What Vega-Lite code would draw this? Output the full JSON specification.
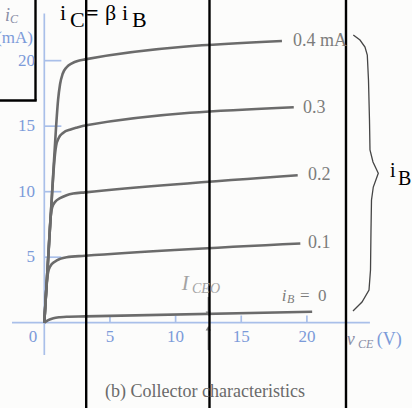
{
  "$schema": "https://vega.github.io/schema/vega-lite/v6.json",
  "width": 412,
  "height": 408,
  "autosize": "none",
  "padding": 0,
  "background": "#fcfcfb",
  "config": {"view": {"stroke": null}, "text": {"font": "Liberation Serif"}},
  "datasets": {
    "segs": [
      {"kind": "axis", "x": 0, "y": -2.47, "x2": 0, "y2": 23.6},
      {"kind": "axis", "x": -2.46, "y": 0, "x2": 24.8, "y2": 0},
      {"kind": "axis", "x": 0, "y": 5, "x2": 1.3, "y2": 5},
      {"kind": "axis", "x": 0, "y": 10, "x2": 1.3, "y2": 10},
      {"kind": "axis", "x": 0, "y": 15, "x2": 1.3, "y2": 15},
      {"kind": "axis", "x": 0, "y": 20, "x2": 1.3, "y2": 20},
      {"kind": "axis", "x": 5, "y": 0, "x2": 5, "y2": 0.55},
      {"kind": "axis", "x": 10, "y": 0, "x2": 10, "y2": 0.55},
      {"kind": "axis", "x": 15, "y": 0, "x2": 15, "y2": 0.55},
      {"kind": "axis", "x": 20, "y": 0, "x2": 20, "y2": 0.55},
      {"kind": "arrow", "x": 12.49, "y": 1.96, "x2": 12.49, "y2": 0.75},
      {"kind": "arrow", "x": 12.49, "y": -2.09, "x2": 12.49, "y2": -0.5},
      {"kind": "box", "x": 3.191, "y": -7, "x2": 3.191, "y2": 25},
      {"kind": "box", "x": 12.582, "y": -7, "x2": 12.582, "y2": 25},
      {"kind": "box", "x": 22.978, "y": -7, "x2": 22.978, "y2": 25},
      {"kind": "box", "x": -0.67, "y": 16.96, "x2": -0.67, "y2": 25},
      {"kind": "box", "x": -3.5, "y": 16.96, "x2": -0.579, "y2": 16.96}
    ],
    "heads": [
      {"dir": "down", "x": 12.49, "y": 0.68},
      {"dir": "up", "x": 12.49, "y": -0.42}
    ],
    "curves": [
      {"ib": "0.4", "k": 0, "x": 0, "y": 0},
      {"ib": "0.4", "k": 1, "x": 0.3, "y": 5},
      {"ib": "0.4", "k": 2, "x": 0.6, "y": 10},
      {"ib": "0.4", "k": 3, "x": 0.9, "y": 15},
      {"ib": "0.4", "k": 4, "x": 1.05, "y": 17},
      {"ib": "0.4", "k": 5, "x": 1.2, "y": 18.2},
      {"ib": "0.4", "k": 6, "x": 1.4, "y": 19.0},
      {"ib": "0.4", "k": 7, "x": 1.7, "y": 19.5},
      {"ib": "0.4", "k": 8, "x": 2.1, "y": 19.8},
      {"ib": "0.4", "k": 9, "x": 2.6, "y": 20.0},
      {"ib": "0.4", "k": 10, "x": 3.1, "y": 20.1},
      {"ib": "0.4", "k": 11, "x": 18.1, "y": 21.5},
      {"ib": "0.3", "k": 0, "x": 0, "y": 0},
      {"ib": "0.3", "k": 1, "x": 0.3, "y": 5},
      {"ib": "0.3", "k": 2, "x": 0.6, "y": 10},
      {"ib": "0.3", "k": 3, "x": 0.78, "y": 12.5},
      {"ib": "0.3", "k": 4, "x": 0.9, "y": 13.5},
      {"ib": "0.3", "k": 5, "x": 1.1, "y": 14.1},
      {"ib": "0.3", "k": 6, "x": 1.45, "y": 14.5},
      {"ib": "0.3", "k": 7, "x": 2.0, "y": 14.75},
      {"ib": "0.3", "k": 8, "x": 2.5, "y": 14.9},
      {"ib": "0.3", "k": 9, "x": 3.2, "y": 15.07},
      {"ib": "0.3", "k": 10, "x": 19.0, "y": 16.45},
      {"ib": "0.2", "k": 0, "x": 0, "y": 0},
      {"ib": "0.2", "k": 1, "x": 0.3, "y": 5},
      {"ib": "0.2", "k": 2, "x": 0.48, "y": 8.0},
      {"ib": "0.2", "k": 3, "x": 0.6, "y": 8.8},
      {"ib": "0.2", "k": 4, "x": 0.85, "y": 9.25},
      {"ib": "0.2", "k": 5, "x": 1.2, "y": 9.5},
      {"ib": "0.2", "k": 6, "x": 1.7, "y": 9.73},
      {"ib": "0.2", "k": 7, "x": 2.2, "y": 9.86},
      {"ib": "0.2", "k": 8, "x": 3.1, "y": 9.95},
      {"ib": "0.2", "k": 9, "x": 19.3, "y": 11.25},
      {"ib": "0.1", "k": 0, "x": 0, "y": 0},
      {"ib": "0.1", "k": 1, "x": 0.15, "y": 2.5},
      {"ib": "0.1", "k": 2, "x": 0.28, "y": 3.8},
      {"ib": "0.1", "k": 3, "x": 0.45, "y": 4.3},
      {"ib": "0.1", "k": 4, "x": 0.8, "y": 4.66},
      {"ib": "0.1", "k": 5, "x": 1.2, "y": 4.87},
      {"ib": "0.1", "k": 6, "x": 1.7, "y": 5.0},
      {"ib": "0.1", "k": 7, "x": 3.1, "y": 5.11},
      {"ib": "0.1", "k": 8, "x": 19.5, "y": 6.05},
      {"ib": "0", "k": 0, "x": 0, "y": 0},
      {"ib": "0", "k": 1, "x": 0.3, "y": 0.2},
      {"ib": "0", "k": 2, "x": 0.69, "y": 0.34},
      {"ib": "0", "k": 3, "x": 1.2, "y": 0.42},
      {"ib": "0", "k": 4, "x": 1.7, "y": 0.46},
      {"ib": "0", "k": 5, "x": 3.1, "y": 0.48},
      {"ib": "0", "k": 6, "x": 20.4, "y": 0.84}
    ],
    "brace": [
      {"k": 0, "x": 23.534, "y": 21.958},
      {"k": 1, "x": 24.044, "y": 21.577},
      {"k": 2, "x": 24.425, "y": 21.042},
      {"k": 3, "x": 24.6, "y": 20.432},
      {"k": 4, "x": 24.691, "y": 18.523},
      {"k": 5, "x": 24.767, "y": 15.47},
      {"k": 6, "x": 24.806, "y": 13.18},
      {"k": 7, "x": 25.034, "y": 12.264},
      {"k": 8, "x": 25.438, "y": 11.401},
      {"k": 9, "x": 25.057, "y": 10.355},
      {"k": 10, "x": 24.92, "y": 9.363},
      {"k": 11, "x": 24.882, "y": 7.073},
      {"k": 12, "x": 24.844, "y": 4.019},
      {"k": 13, "x": 24.73, "y": 2.493},
      {"k": 14, "x": 24.197, "y": 1.577},
      {"k": 15, "x": 23.511, "y": 0.89}
    ],
    "labels": [
      {"role": "tick", "x": -0.86, "y": -1.1, "text": "0"},
      {"role": "tick", "x": 5, "y": -1.1, "text": "5"},
      {"role": "tick", "x": 10, "y": -1.1, "text": "10"},
      {"role": "tick", "x": 15, "y": -1.1, "text": "15"},
      {"role": "tick", "x": 20, "y": -1.1, "text": "20"},
      {"role": "ytick", "x": -0.708, "y": 5, "text": "5"},
      {"role": "ytick", "x": -0.708, "y": 10, "text": "10"},
      {"role": "ytick", "x": -0.708, "y": 15, "text": "15"},
      {"role": "ytick", "x": -0.708, "y": 20, "text": "20"},
      {"role": "ytick", "x": -0.86, "y": 21.73, "text": "(mA)"},
      {"role": "unit", "x": 25.32, "y": -1.71, "text": "(V)"},
      {"role": "var", "x": -2.993, "y": 23.05, "text": "i"},
      {"role": "var", "x": 23.03, "y": -1.71, "text": "v"},
      {"role": "varsub", "x": -2.612, "y": 22.87, "text": "C"},
      {"role": "varsub", "x": 23.89, "y": -1.96, "text": "CE"},
      {"role": "clabel", "x": 18.94, "y": 21.52, "text": "0.4 mA"},
      {"role": "clabel", "x": 19.7, "y": 16.39, "text": "0.3"},
      {"role": "clabel", "x": 20.08, "y": 11.27, "text": "0.2"},
      {"role": "clabel", "x": 20.08, "y": 6.08, "text": "0.1"},
      {"role": "ib", "x": 18.08, "y": 1.65, "text": "i"},
      {"role": "ibsub", "x": 18.48, "y": 1.5, "text": "B"},
      {"role": "ibeq", "x": 19.47, "y": 1.65, "text": "="},
      {"role": "ibeq", "x": 20.85, "y": 1.65, "text": "0"},
      {"role": "iceo", "x": 10.46, "y": 2.49, "text": "I"},
      {"role": "iceosub", "x": 11.25, "y": 2.26, "text": "CEO"},
      {"role": "formula", "x": 1.196, "y": 23.1, "text": "i"},
      {"role": "formula", "x": 1.957, "y": 22.57, "text": "C"},
      {"role": "formulaEq", "x": 3.176, "y": 23.1, "text": "="},
      {"role": "formula", "x": 4.623, "y": 23.1, "text": "β"},
      {"role": "formula", "x": 5.918, "y": 23.1, "text": "i"},
      {"role": "formula", "x": 6.679, "y": 22.57, "text": "B"},
      {"role": "brace", "x": 26.33, "y": 11.12, "text": "i"},
      {"role": "brace", "x": 26.94, "y": 10.51, "text": "B"},
      {"role": "caption", "x": 12.24, "y": -5.29, "text": "(b) Collector characteristics"}
    ]
  },
  "encoding": {
    "x": {"field": "x", "type": "quantitative", "scale": {"domain": [-3.374, 28.005], "nice": false, "zero": false}, "axis": null},
    "y": {"field": "y", "type": "quantitative", "scale": {"domain": [-6.51, 24.63], "nice": false, "zero": false}, "axis": null}
  },
  "layer": [
    {
      "data": {"name": "segs"},
      "transform": [{"filter": "datum.kind === 'axis'"}],
      "mark": {"type": "rule", "color": "#a9bfe9", "strokeWidth": 1.7},
      "encoding": {"x2": {"field": "x2"}, "y2": {"field": "y2"}}
    },
    {
      "data": {"name": "curves"},
      "mark": {"type": "line", "color": "#6b6b6b", "strokeWidth": 2.6, "interpolate": "monotone"},
      "encoding": {"detail": {"field": "ib"}, "order": {"field": "k", "type": "quantitative"}}
    },
    {
      "data": {"name": "segs"},
      "transform": [{"filter": "datum.kind === 'arrow'"}],
      "mark": {"type": "rule", "color": "#8a8a8a", "strokeWidth": 1.3},
      "encoding": {"x2": {"field": "x2"}, "y2": {"field": "y2"}}
    },
    {
      "data": {"name": "heads"},
      "mark": {"type": "point", "filled": true, "color": "#7a7a7a", "size": 28, "opacity": 1},
      "encoding": {
        "shape": {"field": "dir", "type": "nominal", "scale": {"domain": ["down", "up"], "range": ["triangle-down", "triangle-up"]}, "legend": null}
      }
    },
    {
      "data": {"name": "brace"},
      "mark": {"type": "line", "color": "#454545", "strokeWidth": 1.3},
      "encoding": {"order": {"field": "k", "type": "quantitative"}}
    },
    {
      "data": {"name": "segs"},
      "transform": [{"filter": "datum.kind === 'box'"}],
      "mark": {"type": "rule", "color": "#000000", "strokeWidth": 2.4},
      "encoding": {"x2": {"field": "x2"}, "y2": {"field": "y2"}}
    },
    {
      "data": {"name": "labels"},
      "transform": [{"filter": "datum.role === 'tick'"}],
      "mark": {"type": "text", "color": "#7b9ad9", "fontSize": 17, "align": "center", "baseline": "middle"},
      "encoding": {"text": {"field": "text"}}
    },
    {
      "data": {"name": "labels"},
      "transform": [{"filter": "datum.role === 'ytick'"}],
      "mark": {"type": "text", "color": "#7b9ad9", "fontSize": 17, "align": "right", "baseline": "middle"},
      "encoding": {"text": {"field": "text"}}
    },
    {
      "data": {"name": "labels"},
      "transform": [{"filter": "datum.role === 'unit'"}],
      "mark": {"type": "text", "color": "#7b9ad9", "fontSize": 18, "align": "left", "baseline": "alphabetic"},
      "encoding": {"text": {"field": "text"}}
    },
    {
      "data": {"name": "labels"},
      "transform": [{"filter": "datum.role === 'var'"}],
      "mark": {"type": "text", "color": "#8a8ea6", "fontSize": 18, "fontStyle": "italic", "align": "left", "baseline": "alphabetic"},
      "encoding": {"text": {"field": "text"}}
    },
    {
      "data": {"name": "labels"},
      "transform": [{"filter": "datum.role === 'varsub'"}],
      "mark": {"type": "text", "color": "#8a8ea6", "fontSize": 12, "fontStyle": "italic", "align": "left", "baseline": "alphabetic"},
      "encoding": {"text": {"field": "text"}}
    },
    {
      "data": {"name": "labels"},
      "transform": [{"filter": "datum.role === 'clabel'"}],
      "mark": {"type": "text", "color": "#7c7c7c", "fontSize": 18, "align": "left", "baseline": "middle"},
      "encoding": {"text": {"field": "text"}}
    },
    {
      "data": {"name": "labels"},
      "transform": [{"filter": "datum.role === 'ib'"}],
      "mark": {"type": "text", "color": "#7c7c7c", "fontSize": 17, "fontStyle": "italic", "align": "left", "baseline": "alphabetic"},
      "encoding": {"text": {"field": "text"}}
    },
    {
      "data": {"name": "labels"},
      "transform": [{"filter": "datum.role === 'ibsub'"}],
      "mark": {"type": "text", "color": "#7c7c7c", "fontSize": 12, "fontStyle": "italic", "align": "left", "baseline": "alphabetic"},
      "encoding": {"text": {"field": "text"}}
    },
    {
      "data": {"name": "labels"},
      "transform": [{"filter": "datum.role === 'ibeq'"}],
      "mark": {"type": "text", "color": "#7c7c7c", "fontSize": 17, "align": "left", "baseline": "alphabetic"},
      "encoding": {"text": {"field": "text"}}
    },
    {
      "data": {"name": "labels"},
      "transform": [{"filter": "datum.role === 'iceo'"}],
      "mark": {"type": "text", "color": "#a3a3a3", "fontSize": 21, "fontStyle": "italic", "align": "left", "baseline": "alphabetic"},
      "encoding": {"text": {"field": "text"}}
    },
    {
      "data": {"name": "labels"},
      "transform": [{"filter": "datum.role === 'iceosub'"}],
      "mark": {"type": "text", "color": "#a3a3a3", "fontSize": 14, "fontStyle": "italic", "align": "left", "baseline": "alphabetic"},
      "encoding": {"text": {"field": "text"}}
    },
    {
      "data": {"name": "labels"},
      "transform": [{"filter": "datum.role === 'formula'"}],
      "mark": {"type": "text", "color": "#000000", "fontSize": 22, "align": "left", "baseline": "alphabetic"},
      "encoding": {"text": {"field": "text"}}
    },
    {
      "data": {"name": "labels"},
      "transform": [{"filter": "datum.role === 'formulaEq'"}],
      "mark": {"type": "text", "color": "#000000", "fontSize": 22, "fontWeight": "bold", "align": "left", "baseline": "alphabetic"},
      "encoding": {"text": {"field": "text"}}
    },
    {
      "data": {"name": "labels"},
      "transform": [{"filter": "datum.role === 'brace'"}],
      "mark": {"type": "text", "color": "#000000", "fontSize": 20, "align": "left", "baseline": "alphabetic"},
      "encoding": {"text": {"field": "text"}}
    },
    {
      "data": {"name": "labels"},
      "transform": [{"filter": "datum.role === 'caption'"}],
      "mark": {"type": "text", "color": "#6a6a6a", "fontSize": 18, "align": "center", "baseline": "middle"},
      "encoding": {"text": {"field": "text"}}
    }
  ]
}
